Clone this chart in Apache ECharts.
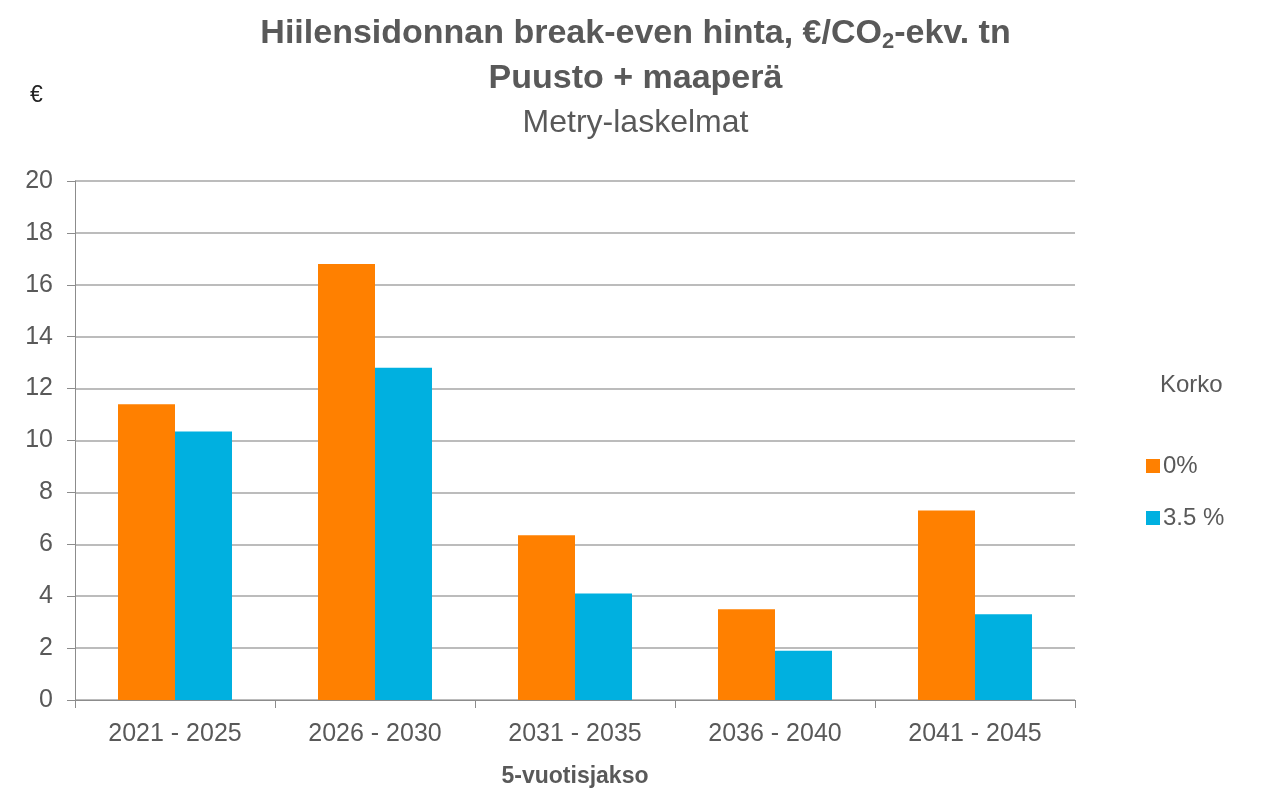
<!DOCTYPE html>
<html>
<head>
<meta charset="utf-8">
<script src="https://cdn.jsdelivr.net/npm/echarts@6/dist/echarts.min.js"></script>
<style>
  html, body { margin: 0; padding: 0; background: #fff; }
  #main { width: 1271px; height: 789px; }
</style>
</head>
<body>
<div id="main"></div>
<script>
var periods = ['2021 - 2025', '2026 - 2030', '2031 - 2035', '2036 - 2040', '2041 - 2045'];
var rate0 = [11.4, 16.8, 6.35, 3.5, 7.3];
var rate35 = [10.35, 12.8, 4.1, 1.9, 3.3];
var seriesNames = ['0%', '3.5 %'];

var chartDom = document.getElementById('main');
var myChart = echarts.init(chartDom);
var option;

var txt = '#595959';
var font = 'Liberation Sans';

option = {
  animation: false,
  textStyle: { fontFamily: font },
  title: [
    {
      text: '{a|Hiilensidonnan break-even hinta, €/CO}{s|2}{a|-ekv. tn}',
      left: 'center',
      top: 10,
      textStyle: {
        rich: {
          a: { fontSize: 34, fontWeight: 'bold', color: txt, fontFamily: font },
          s: { fontSize: 22, fontWeight: 'bold', color: txt, fontFamily: font, padding: [16, 0, 0, 0] }
        }
      }
    },
    {
      text: 'Puusto + maaperä',
      left: 'center',
      top: 57,
      textStyle: { fontSize: 34, fontWeight: 'bold', color: txt, fontFamily: font }
    },
    {
      text: 'Metry-laskelmat',
      left: 'center',
      top: 102,
      textStyle: { fontSize: 32, fontWeight: 'normal', color: txt, fontFamily: font }
    },
    {
      text: 'Korko',
      left: 1155,
      top: 368,
      textStyle: { fontSize: 24, fontWeight: 'normal', color: txt, fontFamily: font }
    },
    {
      text: '€',
      left: 25,
      top: 79,
      textStyle: { fontSize: 23, fontWeight: 'normal', color: '#222', fontFamily: font }
    }
  ],
  legend: {
    orient: 'vertical',
    left: 1141,
    top: 449,
    itemWidth: 14,
    itemHeight: 14,
    itemGap: 28,
    icon: 'rect',
    textStyle: { fontSize: 24, color: txt, fontFamily: font, padding: [0, 0, 0, -2] },
    data: seriesNames
  },
  grid: {
    left: 75,
    right: 196,
    top: 181,
    bottom: 89,
    outerBoundsMode: 'none'
  },
  xAxis: {
    type: 'category',
    data: periods,
    name: '5-vuotisjakso',
    nameLocation: 'middle',
    nameGap: 65,
    nameTextStyle: { fontSize: 23, fontWeight: 'bold', color: txt, fontFamily: font },
    axisLine: { lineStyle: { color: '#8c8c8c', width: 1 } },
    axisTick: { show: true, length: 8, lineStyle: { color: '#8c8c8c' } },
    axisLabel: { fontSize: 25, color: txt, margin: 22, fontFamily: font }
  },
  yAxis: {
    type: 'value',
    min: 0,
    max: 20,
    interval: 2,
    axisLine: { show: true, lineStyle: { color: '#8c8c8c', width: 1 } },
    axisTick: { show: true, length: 8, lineStyle: { color: '#8c8c8c' } },
    axisLabel: { fontSize: 25, color: txt, margin: 22, fontFamily: font },
    splitLine: { lineStyle: { color: '#a6a6a6', width: 1.5 } }
  },
  series: [
    {
      name: seriesNames[0],
      type: 'bar',
      data: rate0,
      barGap: '0%',
      barCategoryGap: '43%',
      itemStyle: { color: '#ff8000' }
    },
    {
      name: seriesNames[1],
      type: 'bar',
      data: rate35,
      itemStyle: { color: '#00b0e0' }
    }
  ]
};

option && myChart.setOption(option);
</script>
</body>
</html>
